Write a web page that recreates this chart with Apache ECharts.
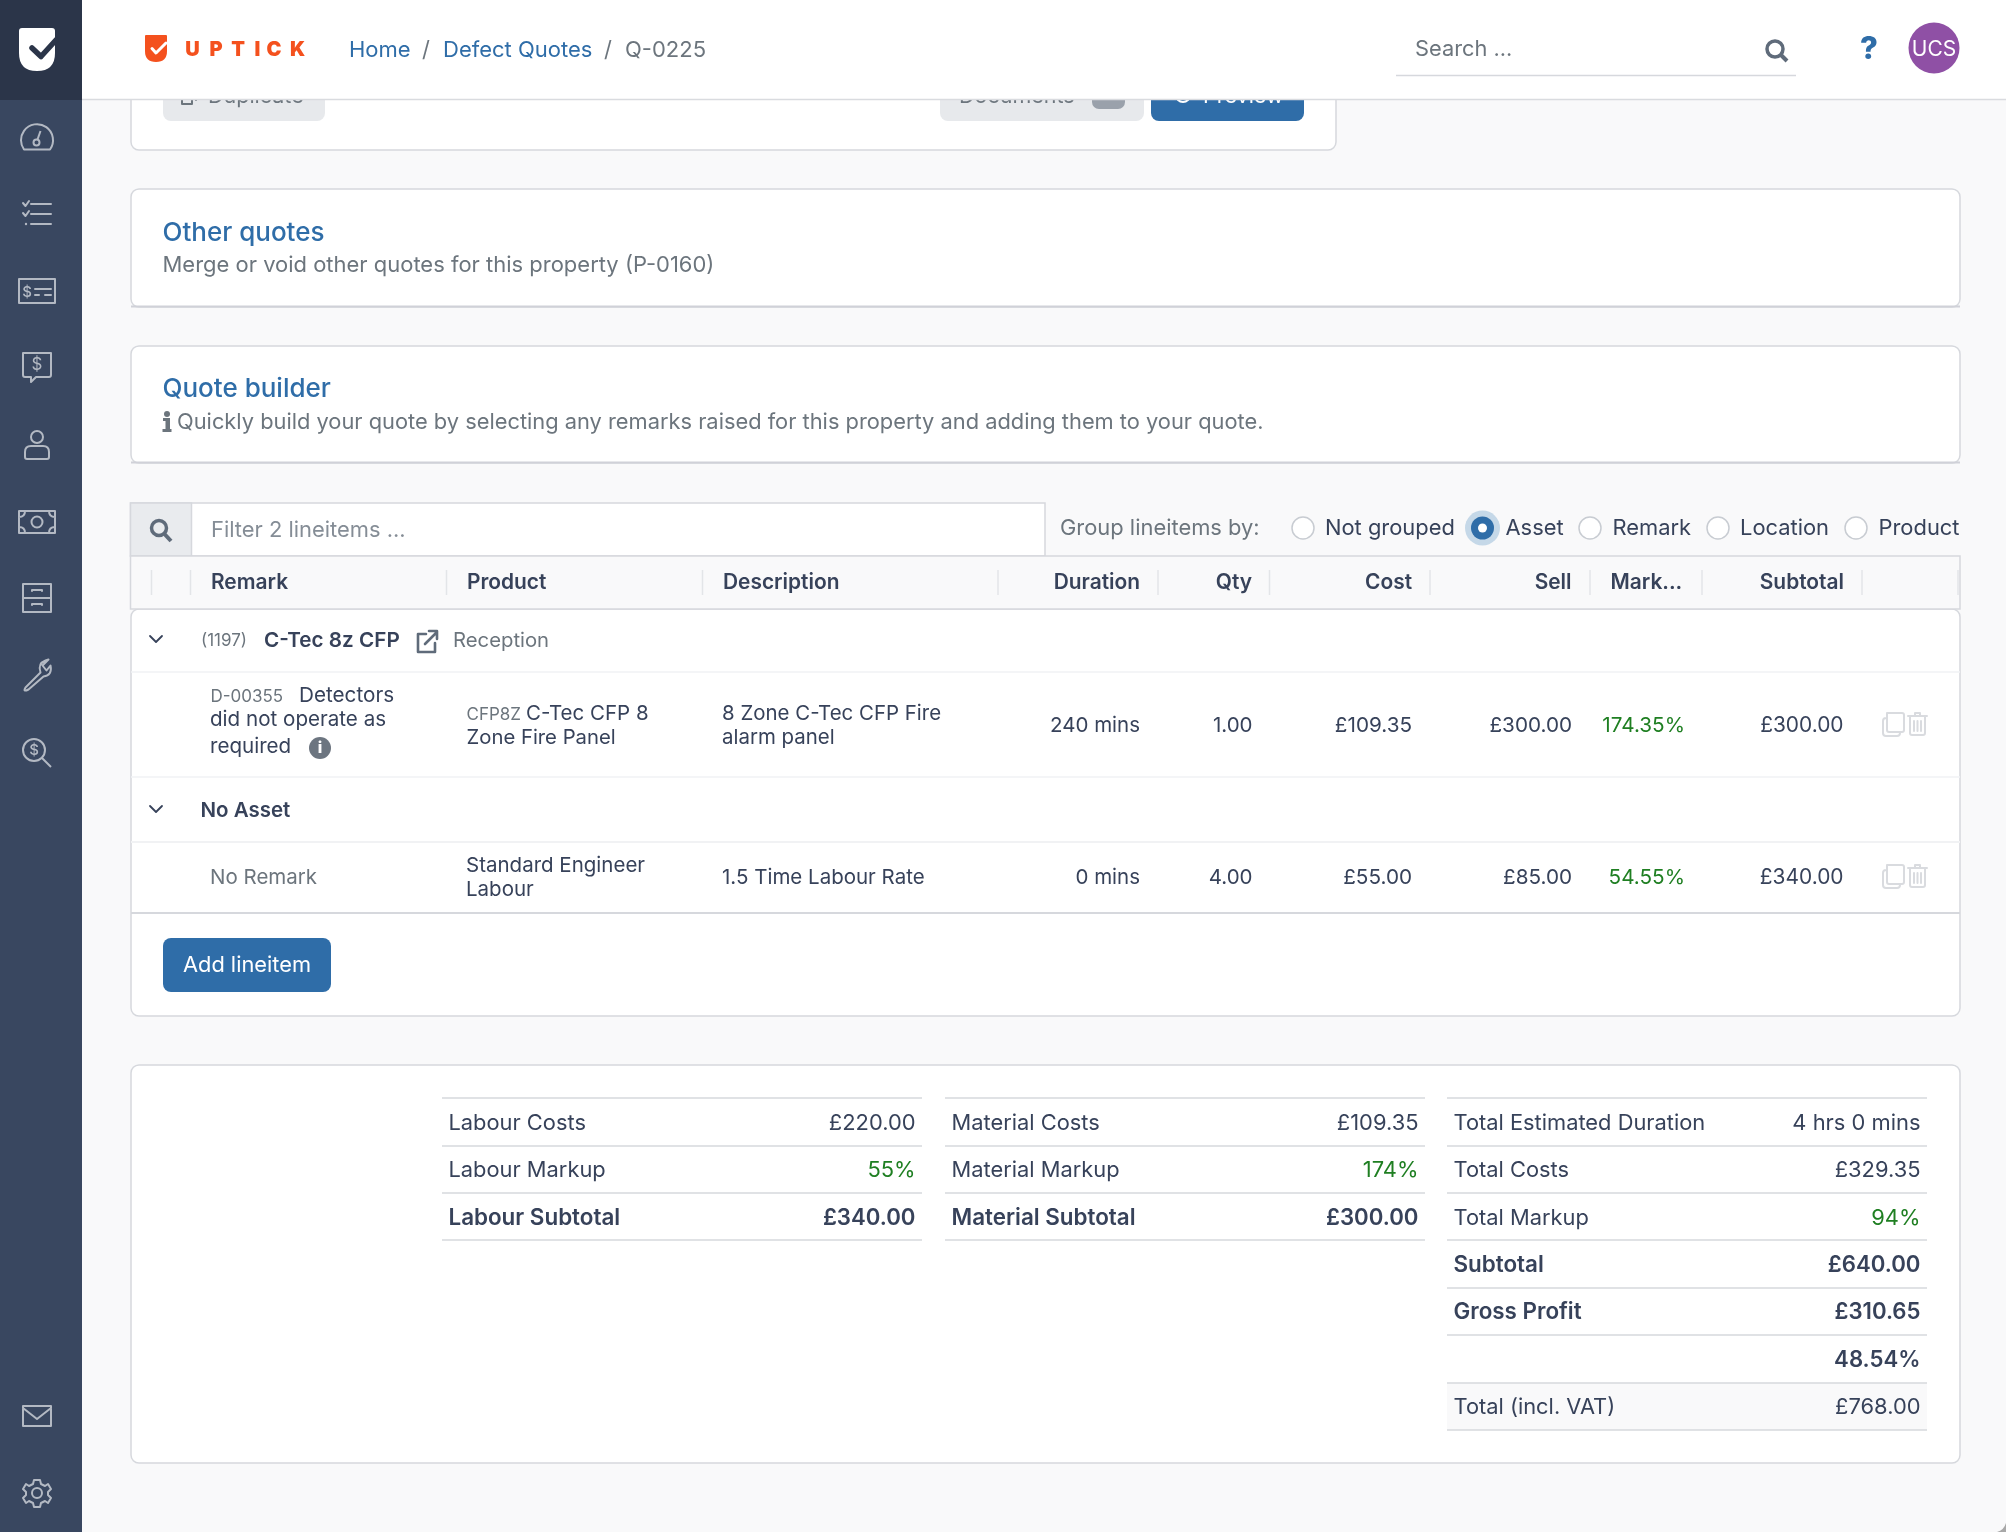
<!DOCTYPE html>
<html>
<head>
<meta charset="utf-8">
<title>Q-0225</title>
<script src="https://cdn.jsdelivr.net/npm/echarts@6/dist/echarts.min.js"></script>
<style>
html, body { margin: 0; padding: 0; background: #f9f9fa; }
#main { width: 2006px; height: 1532px; }
</style>
</head>
<body>
<div id="main"></div>
<script>
// table content
const columns = ["Remark", "Product", "Description", "Duration", "Qty", "Cost", "Sell", "Mark...", "Subtotal"];
const durations = ["240 mins", "0 mins"];
const quantities = ["1.00", "4.00"];
const costs = ["£109.35", "£55.00"];
const sells = ["£300.00", "£85.00"];
const markups = ["174.35%", "54.55%"];
const subtotals = ["£300.00", "£340.00"];
const groupOptions = ["Not grouped", "Asset", "Remark", "Location", "Product"];
const breadcrumbs = ["Home", "Defect Quotes", "Q-0225"];

// summary tables
const labourLabels = ["Labour Costs", "Labour Markup", "Labour Subtotal"];
const labourValues = ["£220.00", "55%", "£340.00"];
const materialLabels = ["Material Costs", "Material Markup", "Material Subtotal"];
const materialValues = ["£109.35", "174%", "£300.00"];
const totalLabels = ["Total Estimated Duration", "Total Costs", "Total Markup", "Subtotal", "Gross Profit", "", "Total (incl. VAT)"];
const totalValues = ["4 hrs 0 mins", "£329.35", "94%", "£640.00", "£310.65", "48.54%", "£768.00"];

const DARK = "#37425a", GREY = "#6c757d", BLUE = "#2f6da8", GREEN = "#1f7f22", LINE = "#d6d8dd", PALE = "#f9f9fa";
const ICON = "#b3b9c3", ORANGE = "#f4511e", FONT = "Inter, 'Noto Sans', sans-serif";

const els = [];
function text(str, x, y, o) {
    o = o || {};
    els.push({
        type: "text", z: o.z || 5, silent: true,
        style: {
            text: str, x: x, y: y + 1.2, align: o.align || "left", verticalAlign: "middle",
            fontFamily: o.font || FONT, fontSize: o.size || 20.5, fontWeight: o.weight || 400, fill: o.color || DARK
        }
    });
}
function rect(x, y, w, h, o) {
    o = o || {};
    els.push({
        type: "rect", z: o.z || 1, silent: true,
        shape: { x: x, y: y, width: w, height: h, r: o.r || 0 },
        style: { fill: o.fill || "#fff", stroke: o.stroke || null, lineWidth: o.lw || 1 }
    });
}
function line(x1, y1, x2, y2, color, lw, z) {
    els.push({
        type: "line", z: z || 3, silent: true,
        shape: { x1: x1, y1: y1, x2: x2, y2: y2 },
        style: { stroke: color || LINE, lineWidth: lw || 1.5 }
    });
}
function circle(x, y, r, o) {
    els.push({
        type: "circle", z: o.z || 4, silent: true,
        shape: { cx: x, cy: y, r: r },
        style: { fill: o.fill || "none", stroke: o.stroke || null, lineWidth: o.lw || 1 }
    });
}
let iconCount = 0;
function icon(d, x, y, o) {
    o = o || {};
    const name = "icon" + (iconCount++);
    echarts.graphic.registerShape(name, echarts.graphic.extendPath(d));
    els.push({
        type: name, z: o.z || 12, silent: true, x: x, y: y,
        style: { fill: o.fill || "none", stroke: o.stroke === undefined ? ICON : o.stroke, lineWidth: o.lw || 2, lineCap: "round", lineJoin: "round" }
    });
}

// page furniture
rect(0, 0, 82, 1532, { fill: "#394760", z: 10 });
rect(0, 0, 82, 100, { fill: "#2b3549", z: 11 });
rect(82, 0, 1924, 99, { fill: "#fff", z: 10 });
line(82, 99.5, 2006, 99.5, "#d9dbdf", 1.5, 11);
icon("M-9 0 Q-2 -2 0 -9 V0 Z", 2006, 1532, { fill: "#a8a8a8", stroke: null, z: 20 });

// shield logo, sidebar
icon("M3 0 H33 Q36 0 36 3 V25 Q36 43 18 43 Q0 43 0 25 V3 Q0 0 3 0 Z", 19, 28, { fill: "#fff", stroke: null });
icon("M13 20 L22 28.5 L37 12", 19, 28, { stroke: "#2b3549", lw: 5.5 });
icon("M-13 12 H13 A16 16 0 1 0 -13 12 Z", 37, 137.5);
circle(36.5, 142.5, 3, { stroke: ICON, lw: 2, z: 12 });
line(37.5, 139.5, 40.5, 131, ICON, 2, 12);
icon("M-6 -10 H14 M-6 0 H14 M-6 10 H14 M-14 -11 L-11.5 -8 L-8 -13 M-14 -1 L-11.5 2 L-8 -3", 37, 214);
circle(26, 224, 1.2, { fill: ICON, z: 12 });
icon("M-18 -12 H18 V12 H-18 Z M-2 -2 H14 M-2 4 H2 M8 4 H14", 37, 291);
text("$", 27, 291, { size: 15, color: ICON, z: 12, align: "center", weight: 500 });
icon("M-14 -13 H14 V9 Q14 11 12 11 H-1 L-6 16 V11 H-12 Q-14 11 -14 9 Z", 37, 366);
text("$", 37, 364, { size: 17, color: ICON, z: 12, align: "center" });
circle(37, 437, 6, { stroke: ICON, lw: 2, z: 12 });
icon("M-12 13 V8 Q-12 2 -6 2 H6 Q12 2 12 8 V13 Q12 15 10 15 H-10 Q-12 15 -12 13 Z", 37, 444);
icon("M-18 -11 H18 V11 H-18 Z M-18 -5 Q-12 -5 -12 -11 M18 -5 Q12 -5 12 -11 M-18 5 Q-12 5 -12 11 M18 5 Q12 5 12 11", 37, 522);
circle(37, 522, 5.5, { stroke: ICON, lw: 2, z: 12 });
icon("M-14 -14 H14 V14 H-14 Z M-14 0 H14 M-5 -7 V-8 H5 V-7 M-5 7 V6 H5 V7", 37, 598);
icon("M-10 14 L5 -1 Q2 -10 10 -13 L13 -14 L7 -8 L11 -3 L15 -8 Q17 2 8 3 L-7 16 Q-13 19 -10 14 Z", 35.5, 673.5);
circle(34, 750, 11, { stroke: ICON, lw: 2, z: 12 });
line(42, 758, 51, 767, ICON, 2, 12);
text("$", 34, 749, { size: 15, color: ICON, z: 12, align: "center", weight: 500 });
icon("M-14 -10 H14 V10 H-14 Z M-14 -8 L0 3 L14 -8", 37, 1416);
icon("M-3 -13 H3 L4 -9 L8 -7 L11 -9 L14 -4 L11 -1 V2 L14 5 L11 10 L8 8 L4 10 L3 14 H-3 L-4 10 L-8 8 L-11 10 L-14 5 L-11 2 V-1 L-14 -4 L-11 -9 L-8 -7 L-4 -9 Z", 37, 1493);
circle(37, 1493, 5, { stroke: ICON, lw: 2, z: 12 });

// header
icon("M1 0 H21 Q22 0 22 1 V16 Q22 27 11 27 Q0 27 0 16 V1 Q0 0 1 0 Z", 145, 35, { fill: ORANGE, stroke: null });
icon("M7 13.5 L11 18 L21 8", 145, 35, { stroke: "#fff", lw: 3 });
["U", "P", "T", "I", "C", "K"].forEach(function (c, i) {
    text(c, [192.5, 216, 238, 257.5, 274, 297.5][i], 48.5, { size: 20, weight: 900, color: ORANGE, z: 12, align: "center" });
});
text(breadcrumbs[0], 349, 49, { size: 22, color: BLUE, z: 12 });
text("/", 426, 49, { size: 22, color: GREY, z: 12, align: "center" });
text(breadcrumbs[1], 443, 49, { size: 22, color: BLUE, z: 12 });
text("/", 608, 49, { size: 22, color: GREY, z: 12, align: "center" });
text(breadcrumbs[2], 625, 49, { size: 22, color: GREY, z: 12 });
text("Search ...", 1415, 48, { size: 21.8, color: GREY, z: 12 });
line(1396, 75.5, 1796, 75.5, LINE, 1.5, 12);
circle(1775, 49, 8, { stroke: "#5f6b7a", lw: 3.5, z: 12 });
line(1781, 55, 1787, 61, "#5f6b7a", 4, 12);
text("?", 1869, 48.5, { size: 31, weight: 800, color: BLUE, z: 12, align: "center" });
circle(1934, 48, 25.5, { fill: "#8f50a5", z: 12 });
text("UCS", 1934, 48, { size: 21, color: "#fff", z: 13, align: "center" });

// cards
rect(131, 40, 1205, 110, { stroke: LINE, lw: 1.5, r: 8 });
rect(163, 70, 162, 51, { fill: "#e7e9ec", r: 8, z: 2 });
text("Duplicate", 208, 95, { size: 21.5, color: GREY });
icon("M0 0 H10 V14 H0 Z M4 -4 H14 V10", 182, 90, { stroke: GREY, z: 5 });
rect(940, 70, 204, 51, { fill: "#e7e9ec", r: 8, z: 2 });
text("Documents", 959, 95, { size: 21.5, color: GREY });
rect(1092, 80, 33, 29, { fill: "#9aa1ab", r: 7, z: 3 });
rect(1151, 70, 153, 51, { fill: BLUE, r: 8, z: 2 });
circle(1183, 95, 7, { stroke: "#fff", lw: 2, z: 5 });
text("Preview", 1203, 95, { size: 21.5, color: "#fff" });

rect(131, 189, 1829, 118, { stroke: LINE, lw: 1.5, r: 8 });
line(131, 306.5, 1960, 306.5, "#d0d1d8", 2);
text("Other quotes", 162.5, 231.5, { size: 26, weight: 500, color: BLUE });
text("Merge or void other quotes for this property (P-0160)", 162.5, 264.5, { size: 21.98, color: GREY });

rect(131, 346, 1829, 117, { stroke: LINE, lw: 1.5, r: 8 });
line(131, 462.5, 1960, 462.5, "#d0d1d8", 2);
text("Quote builder", 162.5, 388, { size: 26, weight: 500, color: BLUE });
circle(167, 414, 3, { fill: GREY });
icon("M-4 -1 H3 V10 H4.5 V13 H-4.5 V10 H-1.5 V2 H-4 Z", 167, 419, { fill: GREY, stroke: null, z: 5 });
text("Quickly build your quote by selecting any remarks raised for this property and adding them to your quote.", 177, 421.5, { size: 21.83, color: GREY });

// filter bar
rect(131, 609, 1829, 407, { stroke: LINE, lw: 1.5, r: 8 });
rect(130.5, 503, 914.5, 53, { stroke: LINE, lw: 1.5 });
rect(130.5, 503, 61, 53, { fill: "#e9ebee", stroke: LINE, lw: 1.5, z: 2 });
circle(159, 528, 7.5, { stroke: "#5f6b7a", lw: 3.5 });
line(164.5, 534, 171, 541, "#5f6b7a", 4, 4);
text("Filter 2 lineitems ...", 211, 529, { size: 21.9, color: "#858d96" });
text("Group lineitems by:", 1060, 527.5, { size: 21.9, color: GREY });
const radioX = [1303, 1482.5, 1590, 1718, 1856];
const radioTextX = [1325, 1505.5, 1612.5, 1740, 1878.5];
groupOptions.forEach(function (g, i) {
    if (i === 1) {
        circle(radioX[i], 528, 17.5, { fill: "#c5d8e8" });
        circle(radioX[i], 528, 11.5, { fill: BLUE, z: 5 });
        circle(radioX[i], 528, 4.5, { fill: "#fff", z: 6 });
    } else {
        circle(radioX[i], 528, 11, { fill: "#fff", stroke: "#c8ccd2", lw: 1.5 });
    }
    text(g, radioTextX[i], 527.5, { size: 21.9, color: DARK });
});

// table header
rect(130.5, 556, 1829.5, 53, { fill: PALE, stroke: LINE, lw: 1.5, z: 2 });
[151.5, 190.5, 446.5, 702.5, 998, 1158, 1269.5, 1430, 1590, 1702, 1862, 1958].forEach(function (x) {
    line(x, 570, x, 595, "#e3e5e8", 1.5);
});
const headX = [211, 467, 723, 1140, 1252, 1412, 1571.5, 1610.5, 1844];
const headAlign = ["left", "left", "left", "right", "right", "right", "right", "left", "right"];
columns.forEach(function (c, i) {
    text(c, headX[i], 582, { size: 20.9, weight: 600, align: headAlign[i] });
});

// table rows
line(131, 672, 1960, 672, "#f1f2f4", 1.5);
line(131, 777, 1960, 777, "#f1f2f4", 1.5);
line(131, 842, 1960, 842, "#f1f2f4", 2);
line(131, 913, 1960, 913, LINE, 2);
icon("M-6 -3 L0 3 L6 -3", 156, 639, { stroke: DARK, lw: 1.8, z: 5 });
icon("M-6 -3 L0 3 L6 -3", 156, 809, { stroke: DARK, lw: 1.8, z: 5 });
text("(1197)", 201, 640, { size: 17, color: GREY });
text("C-Tec 8z CFP", 264, 640, { size: 20.7, weight: 600 });
icon("M10 4 H2 V22 H19 V13 M9 14 L20 3 M13 1 H21 V9", 416, 630, { stroke: "#5f6b7a", lw: 2.6, z: 5 });
text("Reception", 453, 640, { size: 20.3, color: GREY });
text("D-00355", 210.5, 696, { size: 17, color: GREY });
text("Detectors", 299, 694.5, { size: 20.7 });
text("did not operate as", 210, 718.5, { size: 20.6 });
text("required", 210, 745.5, { size: 20.6 });
circle(320, 748, 11, { fill: "#6c7580" });
text("i", 320, 747, { size: 16, weight: 800, color: "#fff", align: "center" });
text("CFP8Z", 466.5, 714, { size: 17, color: GREY });
text("C-Tec CFP 8", 526, 712.5, {});
text("Zone Fire Panel", 466.5, 736.5, { size: 20.3 });
text("8 Zone C-Tec CFP Fire", 722, 712.5, { size: 20.45 });
text("alarm panel", 722, 736.5, { size: 20.45 });
text("No Asset", 200.5, 809.5, { size: 20.5, weight: 600 });
text("No Remark", 210, 876.5, { size: 20.5, color: GREY });
text("Standard Engineer", 466, 864.5, {});
text("Labour", 466, 888.5, {});
text("1.5 Time Labour Rate", 722, 876.5, {});

const rowY = [726, 878];
rowY.forEach(function (y, i) {
    text(durations[i], 1140, y - 1.2, { align: "right" });
    text(quantities[i], 1252.5, y - 1.2, { align: "right" });
    text(costs[i], 1412, y - 1.2, { size: 20.7, align: "right" });
    text(sells[i], 1572, y - 1.2, { size: 20.7, align: "right" });
    text(markups[i], 1685, y - 1.2, { size: 20.7, align: "right", color: GREEN });
    text(subtotals[i], 1843.5, y - 1.2, { size: 20.9, align: "right" });
    icon("M4 -1 H19 Q21 -1 21 1 V16 Q21 18 19 18 H6 Q4 18 4 16 Z M4 4 H3 Q0 4 0 7 V19 Q0 22 3 22 H14 Q17 22 17 19 V18", 1883, y - 12, { stroke: "#d9dbdf", lw: 2, z: 5 });
    icon("M0 2 H19 M7 2 V-1 H12 V2 M2 2 V19 Q2 21 4 21 H15 Q17 21 17 19 V2 M6 7 V17 M9.5 7 V17 M13 7 V17", 1908, y - 12, { stroke: "#d9dbdf", lw: 2, z: 5 });
});

rect(163, 938, 168, 54, { fill: BLUE, r: 8, z: 2 });
text("Add lineitem", 247, 964, { size: 21.8, color: "#fff", align: "center" });

// summary card
rect(131, 1065, 1829, 398, { stroke: LINE, lw: 1.5, r: 8 });
const summaryLines = [1098, 1146, 1193, 1240, 1288, 1335, 1383, 1430];
const summaryTextY = [1122, 1169.5, 1217, 1264, 1311, 1359, 1406];
rect(1447, 1383, 480, 47, { fill: PALE, z: 2 });
function summary(labels, values, left, width, boldRows) {
    for (let i = 0; i <= labels.length; i++) {
        line(left, summaryLines[i], left + width, summaryLines[i], LINE, 1.5);
    }
    labels.forEach(function (l, i) {
        const bold = boldRows.indexOf(i) >= 0;
        const w = bold ? 600 : 400;
        text(l, left + 6.5, summaryTextY[i], { size: bold ? 22.4 : 21.85, weight: w });
        text(values[i], left + width - 6.5, summaryTextY[i], {
            size: bold ? 22.2 : 21.9, weight: w, align: "right", color: values[i].endsWith("%") && !bold ? GREEN : DARK
        });
    });
}
summary(labourLabels, labourValues, 442, 480, [2]);
summary(materialLabels, materialValues, 945, 480, [2]);
summary(totalLabels, totalValues, 1447, 480, [3, 4, 5]);

const chart = echarts.init(document.getElementById("main"));
chart.setOption({
    animation: false,
    backgroundColor: PALE,
    graphic: { elements: els }
});
</script>
</body>
</html>
